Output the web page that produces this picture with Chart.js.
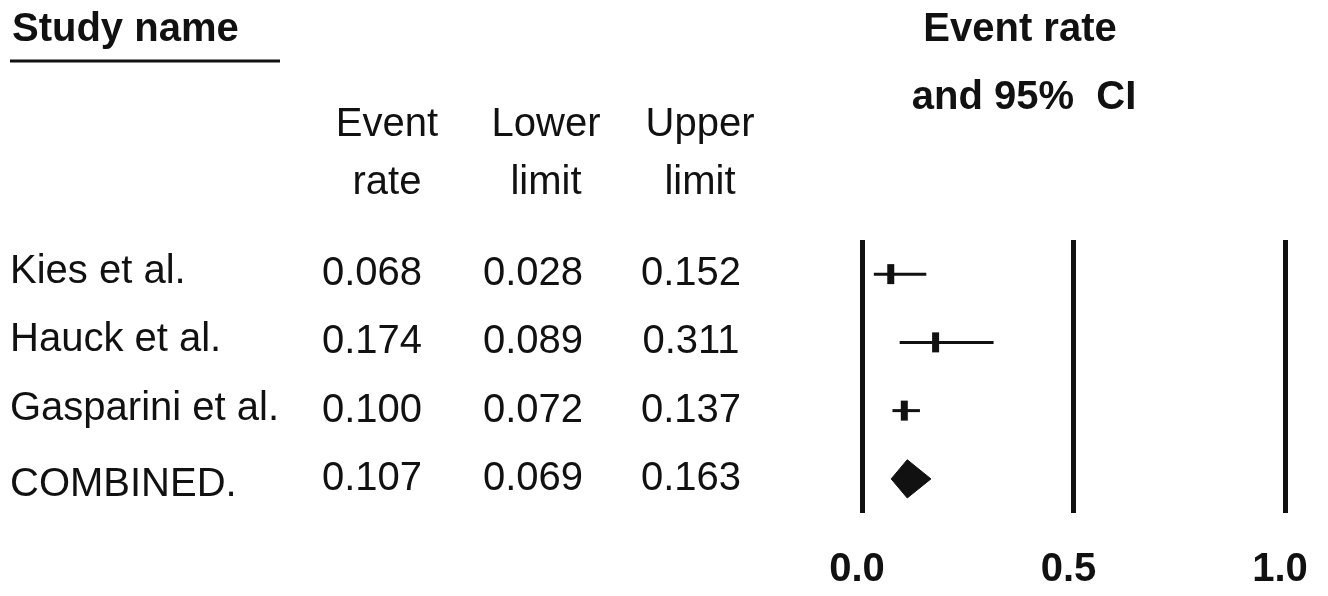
<!DOCTYPE html>
<html>
<head>
<meta charset="utf-8">
<script src="https://cdn.jsdelivr.net/npm/chart.js@4/dist/chart.umd.min.js"></script>
<style>
  html, body { margin: 0; padding: 0; background: #fff; }
  #wrap { width: 1328px; height: 596px; }
</style>
</head>
<body>
<div id="wrap"><canvas id="forest" width="1328" height="596"></canvas></div>
<script>
// data
var studies = ["Kies et al.", "Hauck et al.", "Gasparini et al.", "COMBINED."];
var eventRate = [0.068, 0.174, 0.100, 0.107];
var lowerLimit = [0.028, 0.089, 0.072, 0.069];
var upperLimit = [0.152, 0.311, 0.137, 0.163];
var xTickValues = [0, 0.5, 1];
var xTickLabels = ["0.0", "0.5", "1.0"];

var FONT = "'Liberation Sans', Arial, sans-serif";
var INK = "#111";

// one line per study CI, a marker per estimate, diamond for the combined row
var datasets = [];
for (var i = 0; i < studies.length - 1; i++) {
  datasets.push({
    type: "line",
    data: [{x: lowerLimit[i], y: i}, {x: upperLimit[i], y: i}],
    borderColor: INK,
    borderWidth: 3,
    pointRadius: 0,
    fill: false
  });
}
datasets.push({
  type: "scatter",
  data: eventRate.slice(0, 3).map(function(v, i) { return {x: v, y: i}; }),
  pointStyle: "line",
  rotation: 90,
  radius: 10,
  borderWidth: 7,
  borderColor: INK
});
var c = studies.length - 1, dh = 0.28;
datasets.push({
  type: "line",
  data: [
    {x: lowerLimit[c], y: c},
    {x: eventRate[c], y: c - dh},
    {x: upperLimit[c], y: c},
    {x: eventRate[c], y: c + dh},
    {x: lowerLimit[c], y: c}
  ],
  borderColor: INK,
  backgroundColor: INK,
  borderWidth: 1,
  pointRadius: 0,
  tension: 0,
  fill: "shape"
});

// table on the left + headers
var tablePlugin = {
  id: "table",
  afterDraw: function(chart) {
    var ctx = chart.ctx, y = chart.scales.y;
    ctx.save();
    ctx.fillStyle = INK;
    ctx.textBaseline = "middle";

    ctx.font = "bold 40px " + FONT;
    ctx.textAlign = "left";
    ctx.fillText("Study name", 12, 30);
    ctx.strokeStyle = INK;
    ctx.lineWidth = 3;
    ctx.beginPath();
    ctx.moveTo(10, 61);
    ctx.lineTo(280, 61);
    ctx.stroke();

    ctx.textAlign = "center";
    ctx.fillText("Event rate", 1020, 30);
    ctx.fillText("and 95%  CI", 1024, 98);

    ctx.font = "40px " + FONT;
    var heads = [["Event", "rate"], ["Lower", "limit"], ["Upper", "limit"]];
    var headX = [387, 546, 700];
    heads.forEach(function(h, k) {
      ctx.fillText(h[0], headX[k], 125);
      ctx.fillText(h[1], headX[k], 183);
    });

    var colX = [372, 533, 691];
    studies.forEach(function(name, i) {
      var py = y.getPixelForValue(i);
      ctx.textAlign = "left";
      ctx.fillText(name, 10, py + (i === 3 ? 6 : -2));
      ctx.textAlign = "center";
      ctx.fillText(eventRate[i].toFixed(3), colX[0], py);
      ctx.fillText(lowerLimit[i].toFixed(3), colX[1], py);
      ctx.fillText(upperLimit[i].toFixed(3), colX[2], py);
    });
    ctx.restore();
  }
};

new Chart(document.getElementById("forest").getContext("2d"), {
  data: { datasets: datasets },
  options: {
    responsive: false,
    devicePixelRatio: 1,
    animation: false,
    layout: { padding: { left: 862, right: 43, top: 240, bottom: 2 } },
    plugins: { legend: { display: false }, tooltip: { enabled: false } },
    scales: {
      x: {
        type: "linear",
        position: "bottom",
        min: 0,
        max: 1,
        afterBuildTicks: function(s) {
          s.ticks = xTickValues.map(function(v) { return {value: v}; });
        },
        afterFit: function(s) {
          s.height = 81;
          s.paddingLeft = 0;
          s.paddingRight = 0;
        },
        ticks: {
          callback: function(v, i) { return xTickLabels[i]; },
          font: { family: FONT, size: 40, weight: "bold", lineHeight: 1.2 },
          color: INK,
          padding: 33,
          labelOffset: -5,
          maxRotation: 0
        },
        grid: { color: INK, lineWidth: 5, drawTicks: false },
        border: { display: false }
      },
      y: {
        type: "linear",
        min: -0.5,
        max: 3.5,
        reverse: true,
        display: false
      }
    }
  },
  plugins: [tablePlugin]
});
</script>
</body>
</html>
